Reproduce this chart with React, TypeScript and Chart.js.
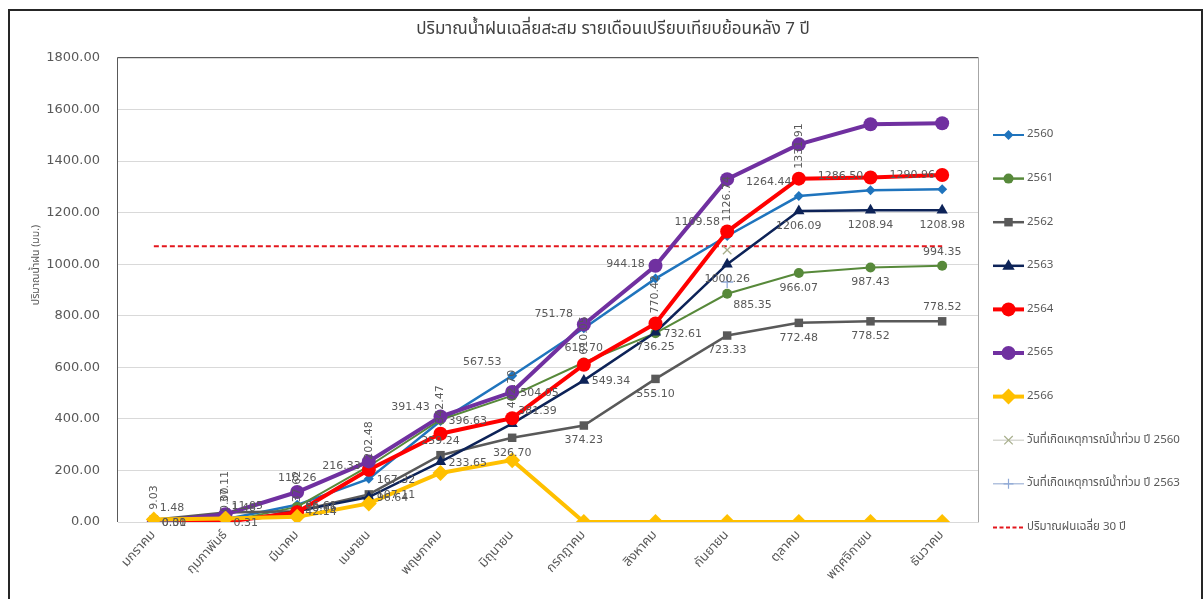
import React, { useEffect, useRef } from "react";
import { Chart, registerables } from "chart.js";

Chart.register(...registerables);

const months = ["มกราคม", "กุมภาพันธ์", "มีนาคม", "เมษายน", "พฤษภาคม", "มิถุนายน", "กรกฎาคม", "สิงหาคม", "กันยายน", "ตุลาคม", "พฤศจิกายน", "ธันวาคม"];

const rain2560 = [1.48, 11.05, 66.61, 167.32, 391.43, 567.53, 751.78, 944.18, 1109.58, 1264.44, 1286.5, 1290.96];
const rain2561 = [0.0, 1.48, 58.66, 216.33, 396.63, 490.0, 618.7, 732.61, 885.35, 966.07, 987.43, 994.35];
const rain2562 = [9.03, 37.11, 42.0, 107.11, 259.24, 326.7, 374.23, 555.1, 723.33, 772.48, 778.52, 778.52];
const rain2563 = [0.0, 0.0, 42.14, 96.64, 233.65, 381.39, 549.34, 736.25, 1000.26, 1206.09, 1208.94, 1208.98];
const rain2564 = [0.31, 0.31, 37.62, 202.48, 342.47, 402.7, 610.05, 770.42, 1126.74, 1331.91, 1336.5, 1346.2];
const rain2565 = [0.0, 30.0, 116.26, 235.0, 409.0, 504.05, 766.0, 994.0, 1330.0, 1465.0, 1543.0, 1547.0];
const rain2566 = [10.0, 14.0, 20.0, 72.0, 190.0, 240.0, 0.0, 0.0, 0.0, 0.0, 0.0, 0.0];
const flood2560 = [null, null, null, null, null, null, null, null, 1055, null, null, null];
const flood2563 = [null, null, null, null, null, null, null, null, 931, null, null, null];
const avg30yr = [1070, 1070, 1070, 1070, 1070, 1070, 1070, 1070, 1070, 1070, 1070, 1070];

const yMin = 0;
const yMax = 1800;
const yStep = 200;

const titleText = "ปริมาณน้ำฝนเฉลี่ยสะสม รายเดือนเปรียบเทียบย้อนหลัง 7 ปี";
const yTitleText = "ปริมาณน้ำฝน (มม.)";

// label placement codes (style only)
const pos2560 = ["ar", "ar", "r", "r", "al", "al", "al", "al", "al", "al", "al", "al"];
const pos2561 = ["r", "ar", "r", "l", "r", "-", "a", "r", "br", "b", "b", "a"];
const pos2562 = ["v", "v", "-", "r", "a", "b", "b", "b", "b", "b", "b", "a"];
const pos2563 = ["-", "v", "r", "r", "r", "ar", "r", "b", "b", "b", "b", "b"];
const pos2564 = ["r", "r", "v", "v", "v", "v", "v", "v", "v", "v", "-", "-"];
const pos2565 = ["-", "-", "a", "-", "-", "r", "-", "-", "-", "-", "-", "-"];

const THAI = "Tahoma, 'Noto Sans Thai', 'DejaVu Sans', sans-serif";
const NUM = "'DejaVu Sans', Verdana, sans-serif";
const TXT = "#595959";

type Marker = "circle" | "rect" | "rectRot" | "triangle" | "cross" | "crossRot" | "none";

function drawMarker(ctx: CanvasRenderingContext2D, style: Marker, x: number, y: number, r: number, color: string) {
  ctx.save();
  ctx.fillStyle = color;
  ctx.strokeStyle = color;
  ctx.beginPath();
  if (style === "circle") {
    ctx.arc(x, y, r, 0, Math.PI * 2);
    ctx.fill();
  } else if (style === "rect") {
    const s = r * Math.SQRT1_2;
    ctx.rect(x - s, y - s, 2 * s, 2 * s);
    ctx.fill();
  } else if (style === "rectRot") {
    ctx.moveTo(x, y - r);
    ctx.lineTo(x + r, y);
    ctx.lineTo(x, y + r);
    ctx.lineTo(x - r, y);
    ctx.closePath();
    ctx.fill();
  } else if (style === "triangle") {
    ctx.moveTo(x, y - r);
    ctx.lineTo(x + r * 0.95, y + r * 0.6);
    ctx.lineTo(x - r * 0.95, y + r * 0.6);
    ctx.closePath();
    ctx.fill();
  } else if (style === "cross") {
    ctx.lineWidth = 1.2;
    ctx.moveTo(x, y - r);
    ctx.lineTo(x, y + r);
    ctx.moveTo(x - r, y);
    ctx.lineTo(x + r, y);
    ctx.stroke();
  } else if (style === "crossRot") {
    ctx.lineWidth = 1.2;
    const s = r * Math.SQRT1_2;
    ctx.moveTo(x - s, y - s);
    ctx.lineTo(x + s, y + s);
    ctx.moveTo(x + s, y - s);
    ctx.lineTo(x - s, y + s);
    ctx.stroke();
  }
  ctx.restore();
}

export default function App() {
  const ref = useRef<HTMLCanvasElement | null>(null);

  useEffect(() => {
    if (!ref.current) return;

    const series = [
      { label: "2560", data: rain2560, color: "#1f74bd", width: 2.5, style: "rectRot", r: 5, pos: pos2560, lw: 2 },
      { label: "2561", data: rain2561, color: "#57893a", width: 2, style: "circle", r: 5, pos: pos2561, lw: 2.5 },
      { label: "2562", data: rain2562, color: "#595959", width: 2.5, style: "rect", r: 6, pos: pos2562, lw: 2.5 },
      { label: "2563", data: rain2563, color: "#0d2358", width: 2.5, style: "triangle", r: 6.5, pos: pos2563, lw: 2.5 },
      { label: "2564", data: rain2564, color: "#ff0000", width: 4, style: "circle", r: 7, pos: pos2564, lw: 4 },
      { label: "2565", data: rain2565, color: "#7030a0", width: 4, style: "circle", r: 7, pos: pos2565, lw: 4 },
      { label: "2566", data: rain2566, color: "#ffc000", width: 4, style: "rectRot", r: 8, pos: null, lw: 4 },
    ];

    const datasets: any[] = series.map((s, i) => ({
      label: s.label,
      data: s.data,
      borderColor: s.color,
      backgroundColor: s.color,
      borderWidth: s.width,
      pointStyle: s.style,
      pointRadius: s.r,
      pointBorderWidth: 0,
      pointBackgroundColor: s.color,
      tension: 0,
      order: 20 - i,
    }));
    datasets.push({
      label: "วันที่เกิดเหตุการณ์น้ำท่วม ปี 2560",
      data: flood2560,
      borderColor: "#a8af8c",
      backgroundColor: "#a8af8c",
      showLine: false,
      pointStyle: "crossRot",
      pointRadius: 6,
      pointBorderWidth: 1.3,
      order: 3,
    });
    datasets.push({
      label: "วันที่เกิดเหตุการณ์น้ำท่วม ปี 2563",
      data: flood2563,
      borderColor: "#8fa9d6",
      backgroundColor: "#8fa9d6",
      showLine: false,
      pointStyle: "cross",
      pointRadius: 6,
      pointBorderWidth: 1.3,
      order: 2,
    });
    datasets.push({
      label: "ปริมาณฝนเฉลี่ย 30 ปี",
      data: avg30yr,
      borderColor: "#e3161c",
      backgroundColor: "#e3161c",
      borderWidth: 2,
      borderDash: [5, 3],
      pointRadius: 0,
      tension: 0,
      order: 30,
    });

    const legendItems = [
      ...series.map((s) => ({ text: s.label, color: s.color, lw: s.lw, style: s.style as Marker, r: s.r, dash: false, lineColor: s.color })),
      { text: "วันที่เกิดเหตุการณ์น้ำท่วม ปี 2560", color: "#a8af8c", lw: 1.2, style: "crossRot" as Marker, r: 6, dash: false, lineColor: "#cfd0c8" },
      { text: "วันที่เกิดเหตุการณ์น้ำท่วม ปี 2563", color: "#8fa9d6", lw: 1.2, style: "cross" as Marker, r: 5, dash: false, lineColor: "#9fb3d6" },
      { text: "ปริมาณฝนเฉลี่ย 30 ปี", color: "#e3161c", lw: 2, style: "none" as Marker, r: 0, dash: true, lineColor: "#e3161c" },
    ];

    const decorPlugin = {
      id: "decor",
      beforeDatasetsDraw(chart: any) {
        const { ctx, chartArea: a } = chart;
        ctx.save();
        ctx.lineWidth = 1;
        ctx.strokeStyle = "#a6a6a6";
        ctx.beginPath();
        ctx.moveTo(a.right + 0.5, a.top);
        ctx.lineTo(a.right + 0.5, a.bottom);
        ctx.stroke();
        ctx.strokeStyle = "#595959";
        ctx.beginPath();
        ctx.moveTo(a.left - 0.5, a.top - 0.5);
        ctx.lineTo(a.right + 0.5, a.top - 0.5);
        ctx.moveTo(a.left - 0.5, a.top - 0.5);
        ctx.lineTo(a.left - 0.5, a.bottom);
        ctx.stroke();
        ctx.restore();
      },
      afterDatasetsDraw(chart: any) {
        const ctx: CanvasRenderingContext2D = chart.ctx;
        ctx.save();
        ctx.font = `11px ${NUM}`;
        ctx.fillStyle = TXT;
        series.forEach((s, di) => {
          if (!s.pos) return;
          const meta = chart.getDatasetMeta(di);
          meta.data.forEach((pt: any, i: number) => {
            const code = s.pos![i];
            const v = s.data[i];
            if (!code || code === "-" || v == null) return;
            const t = v.toFixed(2);
            const x = pt.x;
            const y = pt.y;
            ctx.save();
            ctx.textBaseline = "middle";
            if (code === "a") {
              ctx.textAlign = "center";
              ctx.fillText(t, x, y - 14);
            } else if (code === "b") {
              ctx.textAlign = "center";
              ctx.fillText(t, x, y + 15);
            } else if (code === "r") {
              ctx.textAlign = "left";
              ctx.fillText(t, x + 8, y + 1);
            } else if (code === "l") {
              ctx.textAlign = "right";
              ctx.fillText(t, x - 8, y);
            } else if (code === "ar") {
              ctx.textAlign = "left";
              ctx.fillText(t, x + 6, y - 13);
            } else if (code === "br") {
              ctx.textAlign = "left";
              ctx.fillText(t, x + 6, y + 11);
            } else if (code === "al") {
              ctx.textAlign = "center";
              ctx.fillText(t, x - 30, y - 14);
            } else if (code === "v") {
              ctx.translate(x, y - 10);
              ctx.rotate(-Math.PI / 2);
              ctx.textAlign = "left";
              ctx.fillText(t, 0, 0);
            }
            ctx.restore();
          });
        });
        ctx.restore();
      },
      afterDraw(chart: any) {
        const ctx: CanvasRenderingContext2D = chart.ctx;
        const a = chart.chartArea;
        ctx.save();
        // title
        ctx.fillStyle = "#404040";
        ctx.font = `17px ${THAI}`;
        ctx.textAlign = "center";
        ctx.textBaseline = "middle";
        ctx.fillText(titleText, 603, 20);
        // y title
        ctx.save();
        ctx.translate(27, 254);
        ctx.rotate(-Math.PI / 2);
        ctx.font = `10.5px ${THAI}`;
        ctx.fillStyle = TXT;
        ctx.fillText(yTitleText, 0, 0);
        ctx.restore();
        // legend
        const lx0 = a.right + 15;
        const lx1 = lx0 + 31;
        legendItems.forEach((it, i) => {
          const y = 124 + i * 43.6;
          ctx.save();
          ctx.strokeStyle = it.lineColor;
          ctx.lineWidth = it.lw;
          if (it.dash) ctx.setLineDash([4, 2.5]);
          ctx.beginPath();
          ctx.moveTo(lx0, y);
          ctx.lineTo(lx1, y);
          ctx.stroke();
          ctx.restore();
          if (it.style !== "none") drawMarker(ctx, it.style, (lx0 + lx1) / 2, y, it.r, it.color);
          ctx.fillStyle = TXT;
          ctx.font = `11.5px ${THAI}`;
          ctx.textAlign = "left";
          ctx.textBaseline = "middle";
          ctx.fillText(it.text, lx1 + 3, y);
        });
        ctx.restore();
      },
    };

    const chart = new Chart(ref.current, {
      type: "line",
      data: { labels: months, datasets },
      options: {
        responsive: false,
        animation: false,
        devicePixelRatio: 1,
        layout: { padding: { left: 0, top: 47, right: 223, bottom: 17 } },
        plugins: {
          legend: { display: false },
          title: { display: false },
          tooltip: { enabled: false },
        },
        scales: {
          x: {
            offset: true,
            grid: { display: false, drawTicks: false, offset: true },
            border: { display: true, color: "#d9d9d9", width: 1 },
            ticks: {
              autoSkip: false,
              maxRotation: 48,
              minRotation: 48,
              padding: 6,
              color: TXT,
              font: { family: THAI, size: 13 },
            },
            afterFit: (s: any) => {
              s.height = 60;
            },
          },
          y: {
            min: yMin,
            max: yMax,
            grid: { color: "#d9d9d9", drawTicks: false, lineWidth: 1 },
            border: { display: false },
            ticks: {
              stepSize: yStep,
              padding: 18,
              color: TXT,
              font: { family: NUM, size: 13 },
              callback: (v: any) => Number(v).toFixed(2),
            },
            afterFit: (s: any) => {
              s.width = 108;
            },
          },
        },
      } as any,
      plugins: [decorPlugin],
    });

    return () => chart.destroy();
  }, []);

  return (
    <div
      style={{
        position: "fixed",
        left: 8,
        top: 9,
        width: 1195,
        height: 600,
        boxSizing: "border-box",
        borderLeft: "2px solid #262626",
        borderTop: "2px solid #262626",
        borderRight: "2px solid #262626",
        background: "#fff",
      }}
    >
      <canvas ref={ref} width={1191} height={588} style={{ display: "block" }} />
    </div>
  );
}
